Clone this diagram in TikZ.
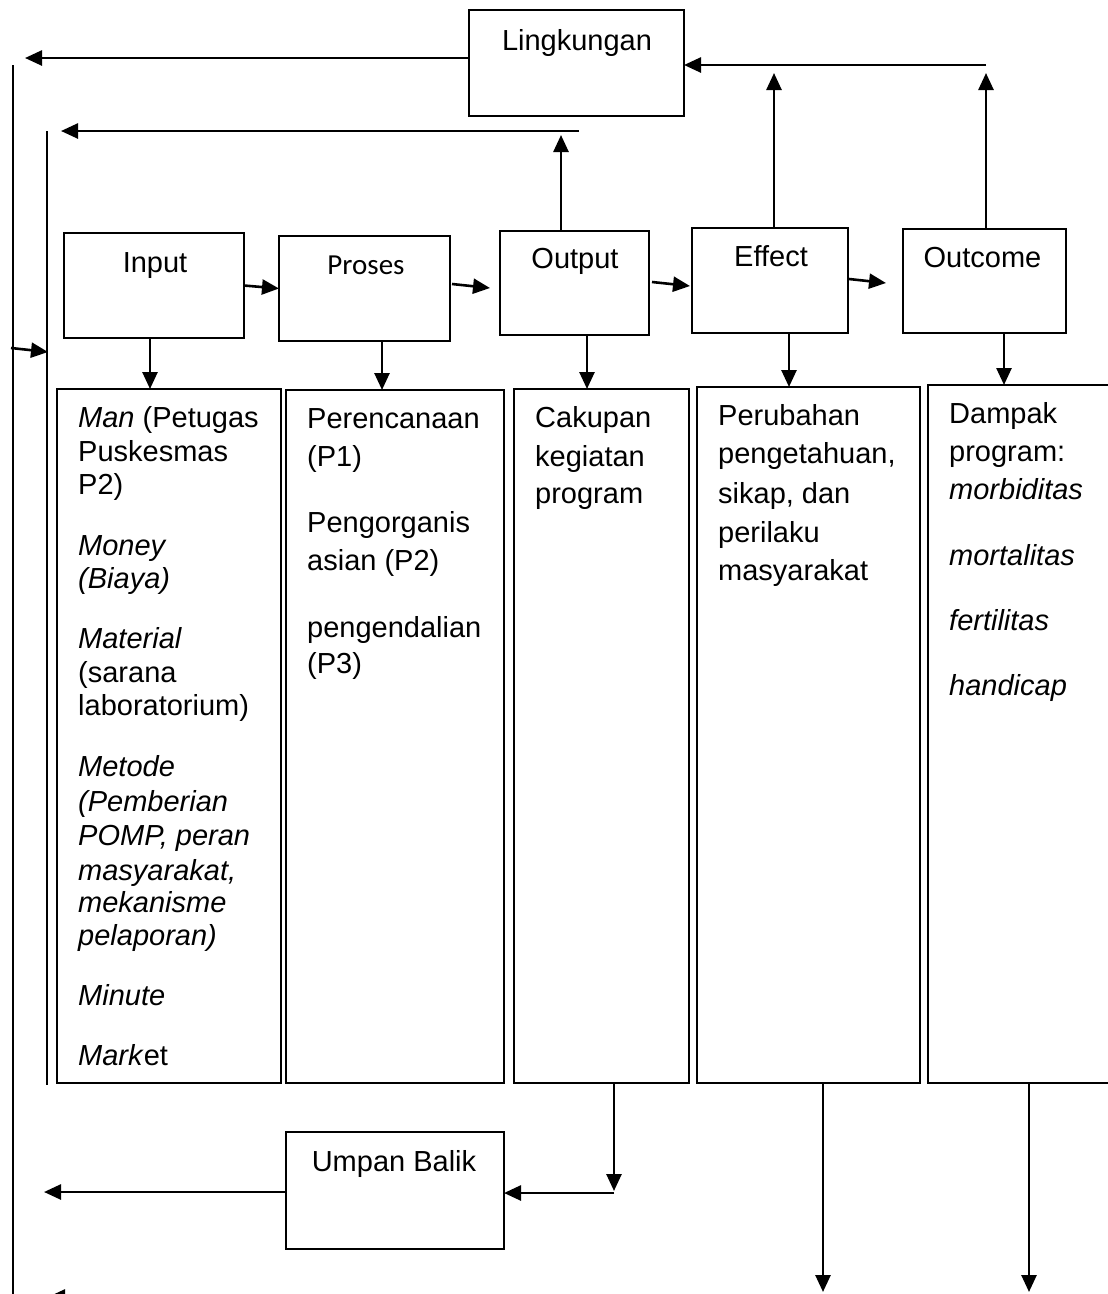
\documentclass[tikz,border=0pt]{standalone}
\usepackage{fontspec}
\setmainfont{Liberation Sans}
\newfontfamily\calib{Carlito}
\usetikzlibrary{arrows.meta}
\begin{document}
\begin{tikzpicture}[x=1pt,y=-1pt,
  box/.style={draw, line width=2.2pt, inner sep=0pt, outer sep=0pt},
  arr/.style={line width=2.6pt, -{Triangle[length=17pt,width=15pt]}},
  ln/.style={line width=2.4pt},
  ttl/.style={font=\fontsize{29}{34}\selectfont, anchor=base, inner sep=0pt},
  txt/.style={font=\fontsize{29}{34}\selectfont, anchor=base west, inner sep=0pt}]
\useasboundingbox (0,0) rectangle (1108,1294);
\clip (0,0) rectangle (1108,1294);

% top boxes
\node[box, minimum width=215pt, minimum height=106pt] (ling) at (576.5,63) {};
\node[box, minimum width=180pt, minimum height=105pt] (input) at (154,285.5) {};
\node[box, minimum width=171pt, minimum height=105pt] (proses) at (364.5,288.5) {};
\node[box, minimum width=149pt, minimum height=104pt] (output) at (574.5,283) {};
\node[box, minimum width=156pt, minimum height=105pt] (effect) at (770,280.5) {};
\node[box, minimum width=163pt, minimum height=104pt] (outcome) at (984.5,281) {};
\node[box, minimum width=218pt, minimum height=117pt] (umpan) at (395,1190.5) {};

% titles
\node[ttl] (tling) at (577,50) {Lingkungan};
\node[ttl] (tinput) at (155,272) {Input};
\node[ttl, font=\calib\fontsize{29}{34}\selectfont] (tproses) at (366,274) {Proses};
\node[ttl] (toutput) at (575,268) {Output};
\node[ttl] (teffect) at (771,266) {Effect};
\node[ttl] (toutcome) at (982.5,267) {Outcome};
\node[ttl] (tumpan) at (394,1171) {Umpan Balik};

% detail boxes
\node[box, minimum width=224pt, minimum height=694pt] (b1) at (169,736) {};
\node[box, minimum width=218pt, minimum height=693pt] (b2) at (395,736.5) {};
\node[box, minimum width=175pt, minimum height=694pt] (b3) at (601.5,736) {};
\node[box, minimum width=223pt, minimum height=696pt] (b4) at (808.5,735) {};
\node[box, minimum width=192pt, minimum height=698pt] (b5) at (1024,734) {};

% box 1 text
\node[txt] (a1) at (78,427) {\textit{Man} (Petugas};
\node[txt] (a2) at (78,461) {Puskesmas};
\node[txt] (a3) at (78,494) {P2)};
\node[txt] (a4) at (78,555) {\textit{Money}};
\node[txt] (a5) at (78,588) {\textit{(Biaya)}};
\node[txt] (a6) at (78,648) {\textit{Material}};
\node[txt] (a7) at (78,682) {(sarana};
\node[txt] (a8) at (78,715) {laboratorium)};
\node[txt] (a9) at (78,776) {\textit{Metode}};
\node[txt] (a10) at (78,811) {\textit{(Pemberian}};
\node[txt] (a11) at (78,845) {\textit{POMP, peran}};
\node[txt] (a12) at (78,880) {\textit{masyarakat,}};
\node[txt] (a13) at (78,912) {\textit{mekanisme}};
\node[txt] (a14) at (78,945) {\textit{pelaporan)}};
\node[txt] (a15) at (78,1005) {\textit{Minute}};
\node[txt] (a16) at (78,1065) {\textit{Mark}et};

% box 2 text
\node[txt] (p1) at (307,428) {Perencanaan};
\node[txt] (p2) at (307,466) {(P1)};
\node[txt] (p3) at (307,532) {Pengorganis};
\node[txt] (p4) at (307,570) {asian (P2)};
\node[txt] (p5) at (307,637) {pengendalian};
\node[txt] (p6) at (307,673) {(P3)};

% box 3 text
\node[txt] (c1) at (535,427) {Cakupan};
\node[txt] (c2) at (535,466) {kegiatan};
\node[txt] (c3) at (535,503) {program};

% box 4 text
\node[txt] (e1) at (718,425) {Perubahan};
\node[txt] (e2) at (718,463) {pengetahuan,};
\node[txt] (e3) at (718,503) {sikap, dan};
\node[txt] (e4) at (718,542) {perilaku};
\node[txt] (e5) at (718,580) {masyarakat};

% box 5 text
\node[txt] (d1) at (949,423) {Dampak};
\node[txt] (d2) at (949,461) {program:};
\node[txt] (d3) at (949,499) {\textit{morbiditas}};
\node[txt] (d4) at (949,565) {\textit{mortalitas}};
\node[txt] (d5) at (949,630) {\textit{fertilitas}};
\node[txt] (d6) at (949,695) {\textit{handicap}};

% free coordinates
\coordinate (lt1) at (25,58);
\coordinate (ol1) at (13,65);
\coordinate (ol2) at (13,1300);
\coordinate (it0) at (579,131);
\coordinate (it1) at (61,131);
\coordinate (il1) at (47,131);
\coordinate (il2) at (47,1085);
\coordinate (oup) at (561,135);
\coordinate (pos) at (452,284);
\coordinate (poe) at (490,288);
\coordinate (oes) at (652,282);
\coordinate (oee) at (690,286);
\coordinate (eos) at (849,279);
\coordinate (eoe) at (886,283);
\coordinate (eup) at (774,73);
\coordinate (cup) at (986,73);
\coordinate (lr) at (986,65);
\coordinate (sa1) at (11,348);
\coordinate (sa2) at (48,352);
\coordinate (bx3) at (614,1083);
\coordinate (bx3e) at (614,1191);
\coordinate (ub) at (614,1193);
\coordinate (ul) at (44,1192);
\coordinate (bx4) at (823,1083);
\coordinate (bx4e) at (823,1292);
\coordinate (bx5) at (1029,1083);
\coordinate (bx5e) at (1029,1292);
\coordinate (bl1) at (48,1297);
\coordinate (bl2) at (120,1297);

% connectors
\draw[arr] (ling.west |- lt1) -- (lt1);
\draw[ln] (ol1) -- (ol2);
\draw[arr] (it0) -- (it1);
\draw[ln] (il1) -- (il2);
\draw[arr] (output.north -| oup) -- (oup);
\draw[arr] (input.east) -- (proses.west);
\draw[arr] (pos) -- (poe);
\draw[arr] (oes) -- (oee);
\draw[arr] (eos) -- (eoe);
\draw[arr] (effect.north -| eup) -- (eup);
\draw[arr] (outcome.north -| cup) -- (cup);
\draw[arr] (lr) -- (ling.east |- lr);
\draw[arr] (sa1) -- (sa2);
\draw[arr] (input.south -| 150,0) -- (b1.north -| 150,0);
\draw[arr] (proses.south -| 382,0) -- (b2.north -| 382,0);
\draw[arr] (output.south -| 587,0) -- (b3.north -| 587,0);
\draw[arr] (effect.south -| 789,0) -- (b4.north -| 789,0);
\draw[arr] (outcome.south -| 1004,0) -- (b5.north -| 1004,0);
\draw[arr] (bx3) -- (bx3e);
\draw[arr] (ub) -- (umpan.east |- ub);
\draw[arr] (umpan.west |- ul) -- (ul);
\draw[arr] (bx4) -- (bx4e);
\draw[arr] (bx5) -- (bx5e);
\draw[arr] (bl2) -- (bl1);
\end{tikzpicture}
\end{document}
